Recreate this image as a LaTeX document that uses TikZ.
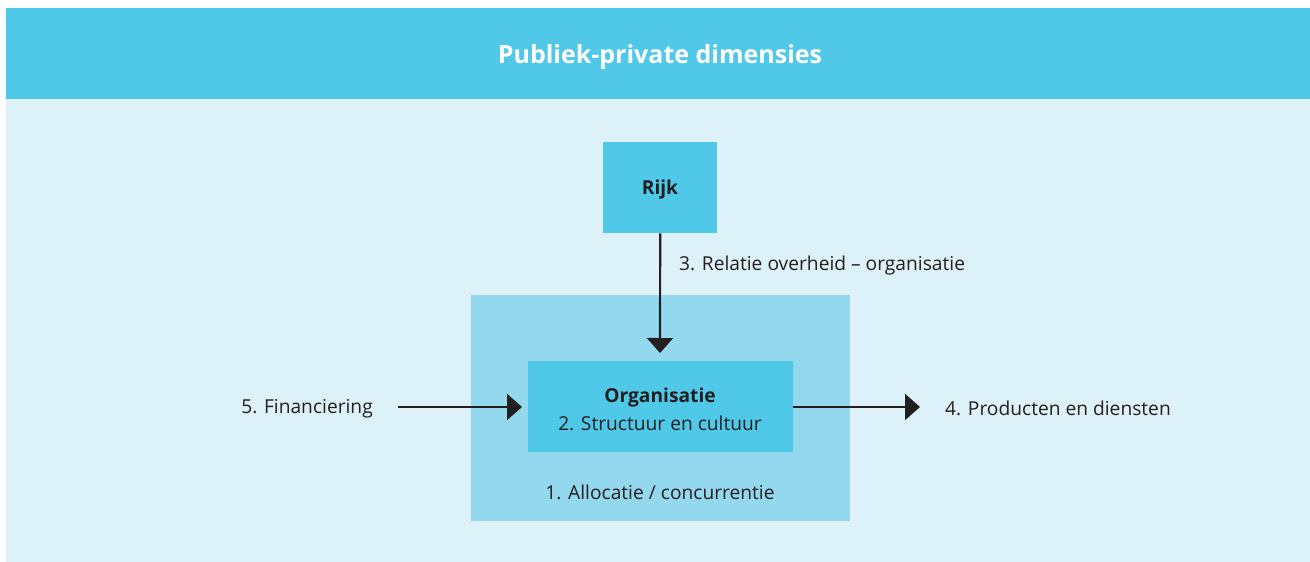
\documentclass[tikz,border=0pt]{standalone}
\usepackage{fontspec}
\setmainfont{Open Sans}
\usetikzlibrary{arrows.meta}
\definecolor{headblue}{HTML}{50C8E8}
\definecolor{panelblue}{HTML}{DDF1F8}
\definecolor{midblue}{HTML}{94D8EE}
\definecolor{inkdark}{HTML}{231F20}
\tikzset{
  box/.style={draw=none, inner sep=0pt, anchor=north west},
  lblfont/.style={font=\fontsize{19.2}{23}\selectfont},
  lbl/.style={text=inkdark, lblfont, inner sep=0pt},
  boldlbl/.style={lbl, font=\bfseries\fontsize{19.2}{23}\selectfont},
  flow/.style={draw=inkdark, line width=2.2pt, -{Triangle[length=15pt,width=26pt]}}
}
\begin{document}
\begin{tikzpicture}[x=1pt,y=-1pt]
  \useasboundingbox (0,0) rectangle (1310,562);
  % panel and header band
  \fill[panelblue] (6,8) rectangle (1310,562);
  \fill[headblue] (6,8) rectangle (1310,99);
  \node[text=white, font=\bfseries\fontsize{25}{30}\selectfont] (title) at (660,57) {Publiek-private dimensies};
  % outer allocation field
  \node[box, fill=midblue, minimum width=379pt, minimum height=226pt] (field) at (471,295) {};
  % organisation box
  \node[box, fill=headblue, minimum width=265pt, minimum height=91pt] (org) at (528,361) {};
  \node[boldlbl] (orgname) at (660,397.5) {Organisatie};
  \node[lbl] (orgsub) at (660,423.5) {2. Structuur en cultuur};
  \node[lbl] (alloc) at (660,492.5) {1. Allocatie / concurrentie};
  % government box
  \node[box, fill=headblue, minimum width=114pt, minimum height=91pt] (rijk) at (603,142) {};
  \node[boldlbl] (rijkname) at (660,189.5) {Rijk};
  \node[lbl, anchor=west] (rel) at (679,265.5) {3. Relatie overheid -- organisatie};
  % side labels
  \node[lbl, anchor=east] (fin) at (373,408.5) {5. Financiering};
  \node[lbl, anchor=west] (prod) at (945,408.5) {4. Producten en diensten};
  % arrow end points, just short of the boxes
  \coordinate (downtip) at (660,353);
  \coordinate (finend) at (398,407);
  \coordinate (fintip) at (522,407);
  \coordinate (prodend) at (920,407);
  % arrows
  \draw[flow] (rijk.south) -- (downtip);
  \draw[flow] (finend) -- (fintip);
  \draw[flow] (org.east |- prodend) -- (prodend);
\end{tikzpicture}
\end{document}
